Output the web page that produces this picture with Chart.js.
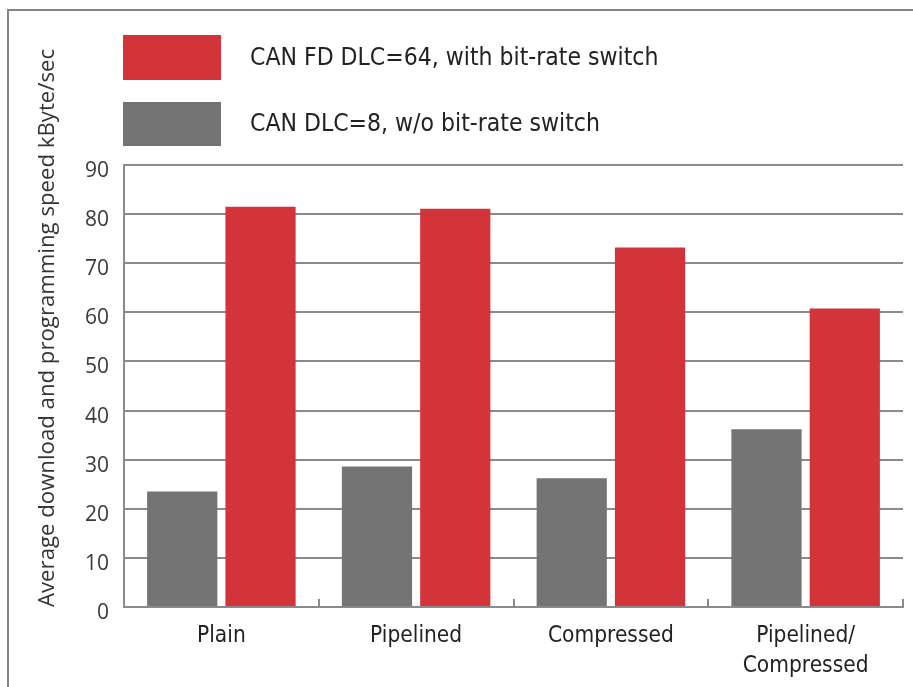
<!DOCTYPE html>
<html>
<head>
<meta charset="utf-8">
<script src="https://cdn.jsdelivr.net/npm/chart.js@4.4.1/dist/chart.umd.min.js"></script>
<style>
  html, body { margin: 0; padding: 0; background: #ffffff; }
  body { width: 913px; height: 687px; position: relative; overflow: hidden; }
  #frame { position: absolute; left: 7px; top: 9px; right: 0; bottom: 0;
           border-top: 2px solid #858585; border-left: 2px solid #858585; }
  #c { position: absolute; left: 0; top: 0; }
</style>
</head>
<body>
<div id="frame"></div>
<canvas id="c" width="913" height="687"></canvas>
<script>
const categories = ['Plain', 'Pipelined', 'Compressed', ['Pipelined/', 'Compressed']];
const canDlc8 = [23.5, 28.6, 26.2, 36.2];
const canFdDlc64 = [81.5, 81.1, 73.2, 60.8];
const yTicks = [0, 10, 20, 30, 40, 50, 60, 70, 80, 90];
const seriesNames = ['CAN DLC=8, w/o bit-rate switch', 'CAN FD DLC=64, with bit-rate switch'];
const yTitle = 'Average download and programming speed kByte/sec';

const GRID = '#8a8a8a';
const RED = '#d3343a';
const GRAY = '#737473';
const COND = '"Liberation Sans Narrow", "DejaVu Sans Condensed", sans-serif';

const legendPlugin = {
  id: 'boxLegend',
  afterDraw(chart, args, opts) {
    const ctx = chart.ctx;
    ctx.save();
    opts.items.forEach(it => {
      const ds = chart.data.datasets[it.dataset];
      ctx.fillStyle = ds.backgroundColor;
      ctx.fillRect(opts.x, it.y, opts.boxW, it.h);
      ctx.fillStyle = opts.color;
      ctx.font = opts.font;
      ctx.textAlign = 'left';
      ctx.textBaseline = 'middle';
      ctx.fillText(ds.label, opts.textX, it.y + it.h / 2 + 1);
    });
    ctx.restore();
  }
};

new Chart(document.getElementById('c'), {
  type: 'bar',
  data: {
    labels: categories,
    datasets: [
      { label: seriesNames[0], data: canDlc8, backgroundColor: GRAY },
      { label: seriesNames[1], data: canFdDlc64, backgroundColor: RED }
    ]
  },
  options: {
    responsive: false,
    animation: false,
    devicePixelRatio: 1,
    layout: { padding: { left: 0, top: 165, right: 10, bottom: 0 } },
    datasets: { bar: { categoryPercentage: 0.804, barPercentage: 0.897 } },
    plugins: {
      legend: { display: false },
      tooltip: { enabled: false },
      boxLegend: {
        x: 123, boxW: 98, textX: 250,
        font: '24.5px ' + COND,
        color: '#222222',
        items: [ { dataset: 1, y: 35, h: 45 }, { dataset: 0, y: 102, h: 44 } ]
      }
    },
    scales: {
      x: {
        offset: true,
        grid: { display: true, drawOnChartArea: false, drawTicks: true, tickLength: -8,
                color: GRID, lineWidth: 2, offset: true },
        border: { display: true, color: GRID, width: 2 },
        ticks: {
          color: '#222222', padding: 23,
          font: { family: COND, size: 22.5, lineHeight: 1.3 },
          maxRotation: 0, autoSkip: false
        },
        afterFit(scale) { scale.height = 80; }
      },
      y: {
        min: 0, max: 90,
        afterBuildTicks(scale) { scale.ticks = yTicks.map(v => ({ value: v })); },
        grid: { color: GRID, lineWidth: 2, drawTicks: false },
        border: { display: true, color: GRID, width: 2 },
        ticks: {
          color: '#3a3a3a', padding: 15, labelOffset: 6,
          font: { family: '"Open Sans", sans-serif', size: 21 }
        },
        title: {
          display: true, text: yTitle, align: 'start',
          color: '#333333', padding: { top: 34, bottom: 0 },
          font: { family: '"Open Sans", sans-serif', size: 22.2 }
        },
        afterFit(scale) { scale.width = 124; }
      }
    }
  },
  plugins: [legendPlugin]
});
</script>
</body>
</html>
